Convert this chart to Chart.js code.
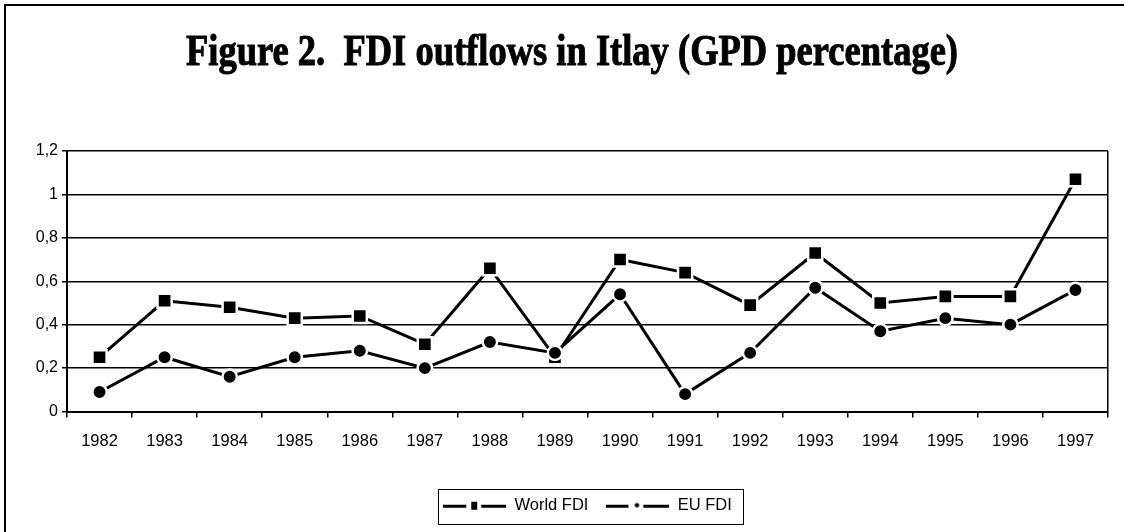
<!DOCTYPE html>
<html>
<head>
<meta charset="utf-8">
<script src="https://cdn.jsdelivr.net/npm/chart.js@4/dist/chart.umd.min.js"></script>
<style>
  html, body { margin: 0; padding: 0; background: #fff; }
  #wrap { position: relative; width: 1124px; height: 532px; overflow: hidden; }
  #frame { position: absolute; left: 4px; top: 4px; width: 1200px; height: 600px;
           border-top: 2px solid #000; border-left: 2px solid #000; }
  #chart { position: absolute; left: 0; top: 0; }
</style>
</head>
<body>
<div id="wrap">
  <div id="frame"></div>
  <canvas id="chart" width="1124" height="532"></canvas>
</div>
<script>
// データ
const years = ["1982", "1983", "1984", "1985", "1986", "1987", "1988", "1989",
               "1990", "1991", "1992", "1993", "1994", "1995", "1996", "1997"];
const worldFDI = [0.25, 0.51, 0.48, 0.43, 0.44, 0.31, 0.66, 0.25,
                  0.70, 0.64, 0.49, 0.73, 0.50, 0.53, 0.53, 1.07];
const euFDI = [0.09, 0.25, 0.16, 0.25, 0.28, 0.20, 0.32, 0.27,
               0.54, 0.08, 0.27, 0.57, 0.37, 0.43, 0.40, 0.56];
const titleText = "Figure 2.  FDI outflows in Itlay (GPD percentage)";

const SANS = "'Liberation Sans', Arial, sans-serif";

// 凡例用のマーカー（線・マーカー・線）
function legendSymbol(kind) {
    const c = document.createElement("canvas");
    c.width = 63;
    c.height = 10;
    const g = c.getContext("2d");
    g.fillStyle = "#000";
    if (kind === "rect") {
        g.fillRect(0, 4, 23, 3);
        g.fillRect(28, 1, 6, 8);
        g.fillRect(38, 4, 25, 3);
    } else {
        g.fillRect(0, 4, 22, 3);
        g.beginPath();
        g.arc(30.5, 4.5, 2.2, 0, Math.PI * 2);
        g.fill();
        g.fillRect(37, 4, 26, 3);
    }
    return c;
}
const symbols = [legendSymbol("rect"), legendSymbol("circle")];

// タイトル（縦長の太字セリフ体）
const condensedTitle = {
    id: "condensedTitle",
    afterDraw(chart) {
        const ctx = chart.ctx;
        ctx.save();
        ctx.font = "bold 44px 'Liberation Serif', 'Times New Roman', serif";
        ctx.fillStyle = "#000";
        ctx.strokeStyle = "#000";
        ctx.lineWidth = 1;
        ctx.textBaseline = "alphabetic";
        const w = ctx.measureText(titleText).width;
        const target = 772;
        ctx.translate(572 - target / 2, 65);
        ctx.scale(target / w, 1);
        ctx.fillText(titleText, 0, 0);
        ctx.strokeText(titleText, 0, 0);
        ctx.restore();
    }
};

// プロット右端の枠線と凡例の枠
const frames = {
    id: "frames",
    afterDraw(chart) {
        const ctx = chart.ctx;
        const a = chart.chartArea;
        ctx.save();
        ctx.strokeStyle = "#000";
        ctx.lineWidth = 1.5;
        ctx.beginPath();
        ctx.moveTo(Math.round(a.right) - 0.25, a.top);
        ctx.lineTo(Math.round(a.right) - 0.25, a.bottom);
        ctx.stroke();

        const boxes = chart.legend.legendHitBoxes;
        if (boxes && boxes.length) {
            let l = Infinity, r = -Infinity, t = Infinity, b = -Infinity;
            boxes.forEach((h) => {
                l = Math.min(l, h.left);
                r = Math.max(r, h.left + h.width);
                t = Math.min(t, h.top);
                b = Math.max(b, h.top + h.height);
            });
            ctx.lineWidth = 1;
            ctx.strokeRect(Math.round(l - 5) + 0.5, Math.round(t - 9) + 0.5,
                           Math.round(r - l + 16), Math.round(b - t + 18));
        }
        ctx.restore();
    }
};

const ctx = document.getElementById("chart").getContext("2d");
new Chart(ctx, {
    type: "line",
    data: {
        labels: years,
        datasets: [
            {
                label: "World FDI",
                data: worldFDI,
                borderColor: "#000",
                backgroundColor: "#000",
                borderWidth: 3,
                tension: 0,
                pointStyle: "rect",
                pointRadius: 10,
                pointBackgroundColor: "#000",
                pointBorderColor: "#fff",
                pointBorderWidth: 2.5,
                order: 1,
            },
            {
                label: "EU FDI",
                data: euFDI,
                borderColor: "#000",
                backgroundColor: "#000",
                borderWidth: 3,
                tension: 0,
                pointStyle: "circle",
                pointRadius: 7.2,
                pointBackgroundColor: "#000",
                pointBorderColor: "#fff",
                pointBorderWidth: 2.5,
                order: 0,
            },
        ],
    },
    options: {
        responsive: false,
        animation: false,
        layout: { padding: { top: 151, left: 0, right: 16, bottom: 8 } },
        plugins: {
            title: { display: false },
            tooltip: { enabled: false },
            legend: {
                position: "bottom",
                fullSize: false,
                labels: {
                    usePointStyle: true,
                    pointStyleWidth: 63,
                    padding: 18,
                    color: "#000",
                    font: { family: SANS, size: 16.5 },
                    generateLabels(chart) {
                        return chart.data.datasets.map((ds, i) => ({
                            text: ds.label,
                            pointStyle: symbols[i],
                            fillStyle: "#000",
                            strokeStyle: "#000",
                            lineWidth: 0,
                            hidden: false,
                            datasetIndex: i,
                            fontColor: "#000",
                        }));
                    },
                },
            },
        },
        scales: {
            x: {
                offset: true,
                afterFit(scale) { scale.height = 68; },
                grid: {
                    offset: true,
                    drawOnChartArea: false,
                    drawTicks: true,
                    tickLength: 6,
                    color: "#000",
                    lineWidth: 1.5,
                },
                border: { display: true, color: "#000", width: 2 },
                ticks: {
                    color: "#000",
                    padding: 14,
                    maxRotation: 0,
                    autoSkip: false,
                    font: { family: SANS, size: 16.5 },
                },
            },
            y: {
                min: 0,
                max: 1.2,
                afterFit(scale) { scale.width = 67; },
                grid: {
                    color: "#000",
                    lineWidth: 1.5,
                    tickLength: 5,
                },
                border: { display: true, color: "#000", width: 2 },
                ticks: {
                    stepSize: 0.2,
                    color: "#000",
                    padding: 4,
                    font: { family: SANS, size: 16 },
                    callback: (v) => String(+Number(v).toFixed(1)).replace(".", ","),
                },
            },
        },
    },
    plugins: [condensedTitle, frames],
});
</script>
</body>
</html>
